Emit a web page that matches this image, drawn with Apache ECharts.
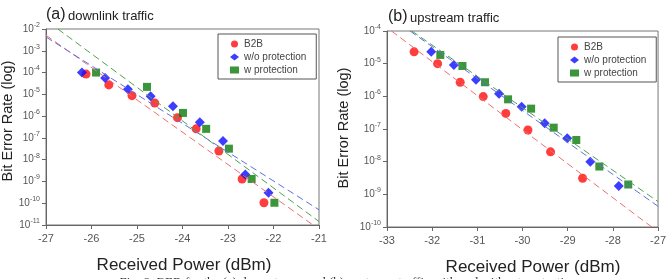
<html>
<head>
    <meta charset="utf-8">
    <title>BER</title>
    <script src="https://cdn.jsdelivr.net/npm/echarts@6/dist/echarts.min.js"></script>
</head>
<body style="margin:0;background:#fff">
    <div id="main" style="width: 669px;height:279px;"></div>
    <script type="text/javascript">
        var names = ['B2B', 'w/o protection', 'w protection'];

        // (a) downlink
        var dnB2B = [[-26.12,8.5e-5],[-25.62,2.7e-5],[-25.11,8.7e-6],[-24.61,4e-6],[-24.11,8.5e-7],[-23.70,2.6e-7],[-23.20,2.5e-8],[-22.69,1.3e-9],[-22.21,1.05e-10]];
        var dnWo = [[-26.21,1.0e-4],[-25.70,5.6e-5],[-25.20,1.7e-5],[-24.70,8.1e-6],[-24.21,2.8e-6],[-23.62,5.2e-7],[-23.11,7.2e-8],[-22.62,2.1e-9],[-22.11,3.0e-10]];
        var dnW = [[-25.90,1.0e-4],[-24.78,2.2e-5],[-23.99,1.4e-6],[-23.48,2.6e-7],[-22.98,3.2e-8],[-22.48,1.3e-9],[-21.98,1.05e-10]];
        var dnFitB2B = [[-27,5.2e-3],[-21.13,1e-11]];
        var dnFitWo = [[-27,4.3e-3],[-21,5.0e-11]];
        var dnFitW = [[-26.74,1e-2],[-21,1.45e-11]];

        // (b) upstream
        var upB2B = [[-32.40,2.3e-5],[-31.88,1.0e-5],[-31.38,2.7e-6],[-30.87,9.8e-7],[-30.37,3.0e-7],[-29.88,9.3e-8],[-29.38,2.0e-8],[-28.67,3.1e-9]];
        var upWo = [[-32.02,2.3e-5],[-31.52,9.1e-6],[-31.03,3.2e-6],[-30.52,1.2e-6],[-30.02,4.8e-7],[-29.51,1.5e-7],[-29.01,5.2e-8],[-28.50,1.0e-8],[-27.87,1.8e-9]];
        var upW = [[-31.82,1.85e-5],[-31.33,8.5e-6],[-30.83,2.7e-6],[-30.32,8.1e-7],[-29.81,4.2e-7],[-29.31,1.1e-7],[-28.81,4.6e-8],[-28.30,7.1e-9],[-27.66,2.0e-9]];
        var upFitB2B = [[-32.90,1e-4],[-27.14,1e-10]];
        var upFitWo = [[-32.49,1e-4],[-27,4.3e-10]];
        var upFitW = [[-32.45,1e-4],[-27,6.0e-10]];

        var dotColors = ['#ff0d0d', '#0d0dff', '#0a7a0a'];
        var lineColors = ['#ee6f6f', '#5f6fe0', '#4fa04f'];
        var symbols = ['circle', 'diamond', 'rect'];
        var sizes = [9, 10, 8];
        var font = 'Liberation Sans';

        var myChart = echarts.init(document.getElementById('main'));

        function logLabel(v) {
            var e = Math.round(Math.log(v) / Math.LN10);
            return '10{s|' + e + '}';
        }
        function yAxis(idx, lo, hi) {
            return {
                type: 'log', gridIndex: idx, logBase: 10, min: lo, max: hi,
                axisLine: {show: true, lineStyle: {color: '#666'}},
                axisTick: {length: 4, lineStyle: {color: '#666'}},
                splitLine: {show: false},
                axisLabel: {
                    formatter: logLabel, color: '#555', fontSize: 10, fontFamily: font, margin: 6,
                    rich: {s: {fontSize: 7, fontFamily: font, verticalAlign: 'top', padding: [0, 0, 8, 0], color: '#555'}}
                }
            };
        }
        function xAxis(idx, lo, hi) {
            return {
                type: 'value', gridIndex: idx, min: lo, max: hi, interval: 1,
                axisLine: {show: true, onZero: false, lineStyle: {color: '#666'}},
                axisTick: {length: 4, lineStyle: {color: '#666'}},
                splitLine: {show: false},
                axisLabel: {color: '#555', fontSize: 11, fontFamily: font, margin: 8}
            };
        }
        function dots(name, i, data, idx) {
            return {
                name: name, type: 'scatter', xAxisIndex: idx, yAxisIndex: idx, data: data,
                symbol: symbols[i], symbolSize: sizes[i], itemStyle: {color: dotColors[i]}
            };
        }
        function fit(i, data, idx) {
            return {
                name: 'fit' + idx + i, type: 'line', xAxisIndex: idx, yAxisIndex: idx, data: data,
                symbol: 'none', silent: true, clip: true,
                lineStyle: {color: lineColors[i], width: 1, type: [7, 4]}
            };
        }
        function legend(left, top) {
            return {
                data: names, orient: 'vertical', left: left, top: top,
                borderColor: '#555', borderWidth: 1, borderRadius: 0,
                padding: [5, 10, 4, 12], itemGap: 3, itemWidth: 9, itemHeight: 7,
                textStyle: {fontSize: 10, color: '#444', fontFamily: font}
            };
        }

        var option = {
            animation: false,
            grid: [
                {left: 46, top: 29, width: 273, height: 196, show: true, borderColor: '#777', borderWidth: 1},
                {left: 387, top: 31, width: 272, height: 196, show: true, borderColor: '#777', borderWidth: 1}
            ],
            xAxis: [xAxis(0, -27, -21), xAxis(1, -33, -27)],
            yAxis: [yAxis(0, 1e-11, 1e-2), yAxis(1, 1e-10, 1e-4)],
            legend: [legend(218, 34), legend(558, 37)],
            series: [
                fit(0, dnFitB2B, 0), fit(1, dnFitWo, 0), fit(2, dnFitW, 0),
                dots(names[0], 0, dnB2B, 0), dots(names[1], 1, dnWo, 0), dots(names[2], 2, dnW, 0),
                fit(0, upFitB2B, 1), fit(1, upFitWo, 1), fit(2, upFitW, 1),
                dots(names[0], 0, upB2B, 1), dots(names[1], 1, upWo, 1), dots(names[2], 2, upW, 1)
            ],
            graphic: [
                {type: 'text', left: 46, top: 7, style: {text: '(a)', fontSize: 16, fontFamily: font, fill: '#222'}},
                {type: 'text', left: 68, top: 10, style: {text: 'downlink traffic', fontSize: 13, fontFamily: font, fill: '#222'}},
                {type: 'text', left: 388, top: 9, style: {text: '(b)', fontSize: 16, fontFamily: font, fill: '#222'}},
                {type: 'text', left: 410, top: 12, style: {text: 'upstream traffic', fontSize: 13, fontFamily: font, fill: '#222'}},
                {type: 'text', x: 8, y: 121, rotation: Math.PI / 2, style: {text: 'Bit Error Rate (log)', fontSize: 14.5, fontFamily: font, fill: '#222', align: 'center', verticalAlign: 'middle'}},
                {type: 'text', x: 344, y: 128, rotation: Math.PI / 2, style: {text: 'Bit Error Rate (log)', fontSize: 14.5, fontFamily: font, fill: '#222', align: 'center', verticalAlign: 'middle'}},
                {type: 'text', x: 184, y: 265, style: {text: 'Received Power (dBm)', fontSize: 17, fontFamily: font, fill: '#222', align: 'center', verticalAlign: 'middle'}},
                {type: 'text', x: 533, y: 267, style: {text: 'Received Power (dBm)', fontSize: 17, fontFamily: font, fill: '#222', align: 'center', verticalAlign: 'middle'}},
                {type: 'text', x: 350, y: 276, style: {text: 'Fig. 8. BER for the (a) downstream and (b) upstream traffic with and without protection.', fontSize: 13, fontFamily: 'Liberation Serif', fill: '#333', align: 'center', verticalAlign: 'top'}}
            ]
        };
        myChart.setOption(option);
    </script>
</body>
</html>
